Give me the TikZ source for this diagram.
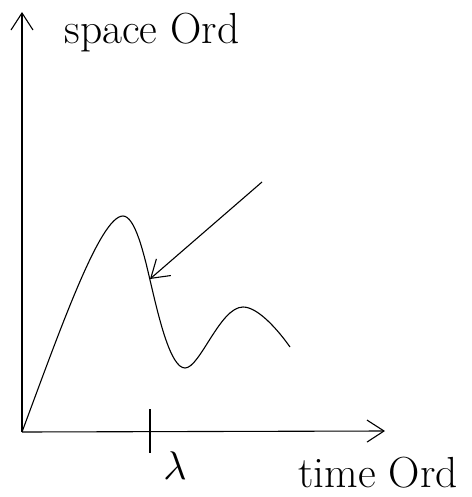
\documentclass[tikz,border=0pt]{standalone}
\usepackage{fontspec}
\usepackage{graphicx}
\usetikzlibrary{arrows.meta}
\begin{document}
\begin{tikzpicture}[x=1pt,y=-1pt,
  axis/.style={line width=1.1pt,-{Straight Barb[length=17pt,width=22pt,line width=1.1pt]}},
  curveline/.style={line width=1.1pt},
  lbl/.style={font=\fontsize{43.5}{52}\selectfont,inner sep=0pt}]
\useasboundingbox (0,0) rectangle (471,497);
\coordinate (O) at (22,432);
\coordinate (ytop) at (22,12);
\coordinate (xend) at (385,431);
\coordinate (tickT) at (150,409);
\coordinate (tickB) at (150,453);
\coordinate (arrS) at (262,182);
\coordinate (arrE) at (150,279);
\coordinate (pk1) at (123,216);
\coordinate (inf) at (150,280);
\coordinate (mn) at (185,368);
\coordinate (pk2) at (243,307);
\coordinate (cend) at (290,347);
\draw[axis] (O) -- (ytop);
\draw[axis] (O) -- (xend);
\draw[curveline] (tickT) -- (tickB);
\draw[curveline] (O) .. controls (60,330) and (100,216) .. (pk1)
  .. controls (135,216) and (144,254) .. (inf)
  .. controls (158,314) and (170,368) .. (mn)
  .. controls (200,368) and (220,307) .. (pk2)
  .. controls (258,307) and (278,330) .. (cend);
\draw[axis] (arrS) -- (arrE);
\node[lbl,anchor=base] (sp) at (152,44) {space Ord};
\node[lbl,anchor=base] (tm) at (378,487) {time Ord};
\node[inner sep=0pt,anchor=base] (la) at (175,479) {\scalebox{4}{$\lambda$}};
\end{tikzpicture}
\end{document}
